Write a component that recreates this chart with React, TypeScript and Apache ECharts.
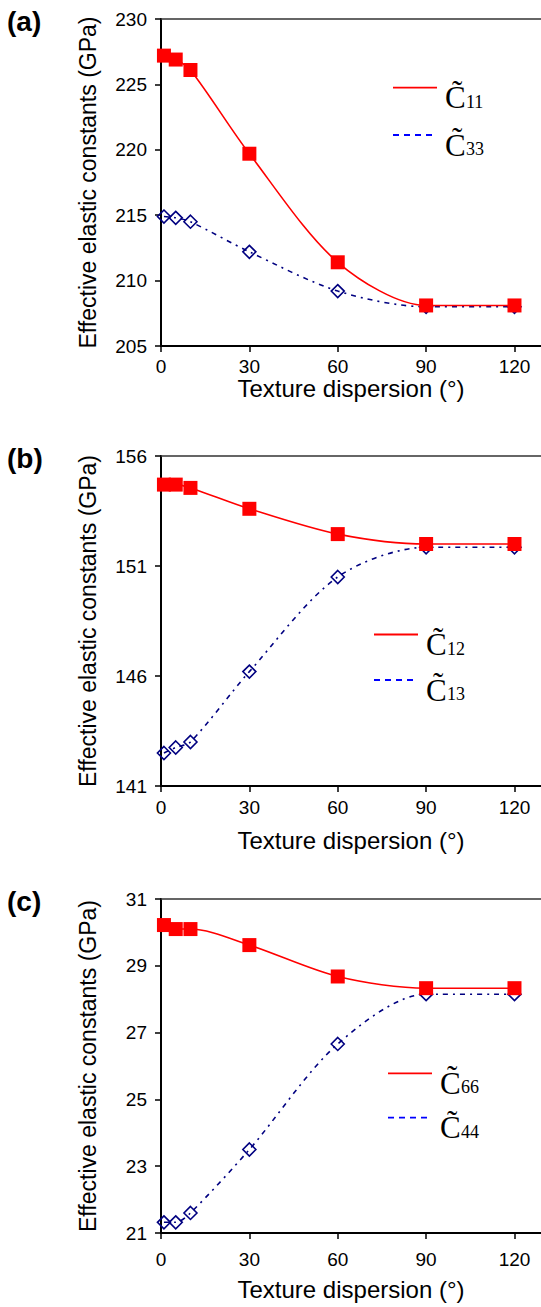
import React, { useEffect, useRef } from "react";
import * as echarts from "echarts";

// ---- data ----
const dispersion = [1, 5, 10, 30, 60, 90, 120];
const xTicks = [0, 30, 60, 90, 120];

const c11 = [227.2, 226.9, 226.1, 219.7, 211.4, 208.1, 208.1];
const c33 = [214.9, 214.8, 214.5, 212.2, 209.2, 208.0, 208.0];
const yTicksA = [205, 210, 215, 220, 225, 230];

const c12 = [154.7, 154.7, 154.55, 153.6, 152.45, 152.0, 152.0];
const c13 = [142.5, 142.75, 143.0, 146.2, 150.5, 151.85, 151.85];
const yTicksB = [141, 146, 151, 156];

const c66 = [30.22, 30.1, 30.1, 29.62, 28.68, 28.33, 28.33];
const c44 = [21.32, 21.32, 21.6, 23.5, 26.66, 28.15, 28.15];
const yTicksC = [21, 23, 25, 27, 29, 31];

const panelLabels = ["(a)", "(b)", "(c)"];
const legendNames = [
  ["11", "33"],
  ["12", "13"],
  ["66", "44"],
];
const yTitle = "Effective elastic constants (GPa)";
const xTitle = "Texture dispersion (°)";

const toPairs = (vals: number[]) => dispersion.map((x, i) => [x, vals[i]]);

export default function App() {
  const ref = useRef<HTMLDivElement>(null);
  useEffect(() => {
    if (!ref.current) return;
    const chart = echarts.init(ref.current, undefined, { renderer: "svg" });

    const panels = [
      { top: 19, height: 327, ticks: yTicksA, red: c11, blue: c33, lblM: 5, nameGap: 26, legY: [87.7, 135], legX: 393 },
      { top: 456, height: 330, ticks: yTicksB, red: c12, blue: c13, lblM: 6, nameGap: 42, legY: [634.5, 680], legX: 374 },
      { top: 899, height: 334, ticks: yTicksC, red: c66, blue: c44, lblM: 11, nameGap: 44, legY: [1073.3, 1117.7], legX: 388 },
    ];

    const sans = "'Liberation Sans', Arial, sans-serif";
    const serif = "'Liberation Serif', 'Times New Roman', serif";

    const grid: any[] = [];
    const xAxis: any[] = [];
    const yAxis: any[] = [];
    const series: any[] = [];
    const graphic: any[] = [];

    panels.forEach((p, i) => {
      grid.push({ left: 161, right: 0, top: p.top, height: p.height });
      xAxis.push({
        type: "value",
        gridIndex: i,
        min: 0,
        max: 129,
        name: xTitle,
        nameLocation: "middle",
        nameGap: p.nameGap,
        nameTextStyle: { fontSize: 24, fontFamily: sans, color: "#000" },
        axisLine: { show: true, onZero: false, lineStyle: { color: "#000", width: 2 } },
        axisTick: { show: true, length: 6, customValues: xTicks, lineStyle: { color: "#000", width: 1.5 } },
        axisLabel: { customValues: xTicks, fontSize: 19, fontFamily: sans, color: "#000", margin: p.lblM + 6 },
        splitLine: { show: false },
      });
      xAxis.push({
        type: "value",
        gridIndex: i,
        position: "top",
        min: 0,
        max: 129,
        axisLine: { show: true, onZero: false, lineStyle: { color: "#333", width: 1.5 } },
        axisTick: { show: false },
        axisLabel: { show: false },
        splitLine: { show: false },
      });
      const t = p.ticks;
      yAxis.push({
        type: "value",
        gridIndex: i,
        min: t[0],
        max: t[t.length - 1],
        name: yTitle,
        nameLocation: "middle",
        nameGap: 62,
        nameTextStyle: { fontSize: 23, fontFamily: sans, color: "#000" },
        axisLine: { show: true, onZero: false, lineStyle: { color: "#000", width: 2 } },
        axisTick: { show: true, length: 6, customValues: t, lineStyle: { color: "#000", width: 1.5 } },
        axisLabel: { customValues: t, fontSize: 19, fontFamily: sans, color: "#000", margin: 14 },
        splitLine: { show: false },
      });
      series.push({
        type: "line",
        xAxisIndex: i * 2,
        yAxisIndex: i,
        data: toPairs(p.blue),
        smooth: 0.3,
        symbol: "diamond",
        symbolSize: 13,
        showAllSymbol: true,
        lineStyle: { color: "#000080", width: 1.6, type: [5, 5, 2, 5] },
        itemStyle: { color: "rgba(0,0,0,0)", borderColor: "#000080", borderWidth: 1.6 },
        z: 2,
      });
      series.push({
        type: "line",
        xAxisIndex: i * 2,
        yAxisIndex: i,
        data: toPairs(p.red),
        smooth: 0.3,
        symbol: "rect",
        symbolSize: 14,
        showAllSymbol: true,
        lineStyle: { color: "#FF0000", width: 1.6 },
        itemStyle: { color: "#FF0000" },
        z: 3,
      });

      // panel label
      graphic.push({
        type: "text",
        left: 7,
        top: p.top - 12,
        style: { text: panelLabels[i], fontSize: 28, fontWeight: "bold", fontFamily: sans, fill: "#000" },
      });

      // legend
      const colors = ["#FF0000", "#0000FF"];
      p.legY.forEach((ly, k) => {
        graphic.push({
          type: "line",
          shape: { x1: p.legX, y1: ly, x2: p.legX + 44, y2: ly },
          style: { stroke: colors[k], lineWidth: 1.8, lineDash: k === 1 ? [6, 5] : null },
        });
        graphic.push({
          type: "text",
          x: p.legX + 52,
          y: ly + 10,
          style: { text: "C\u0303", fontSize: 31, fontFamily: serif, fill: "#000", align: "left", verticalAlign: "middle" },
        });
        graphic.push({
          type: "text",
          x: p.legX + 73,
          y: ly + 14,
          style: { text: legendNames[i][k], fontSize: 18, fontFamily: serif, fill: "#000", align: "left", verticalAlign: "middle" },
        });
      });
    });

    chart.setOption({
      animation: false,
      backgroundColor: "#fff",
      grid,
      xAxis,
      yAxis,
      series,
      graphic,
    });
    return () => chart.dispose();
  }, []);

  return (
    <div
      ref={ref}
      style={{ position: "absolute", left: 0, top: 0, width: 541, height: 1307 }}
    />
  );
}
